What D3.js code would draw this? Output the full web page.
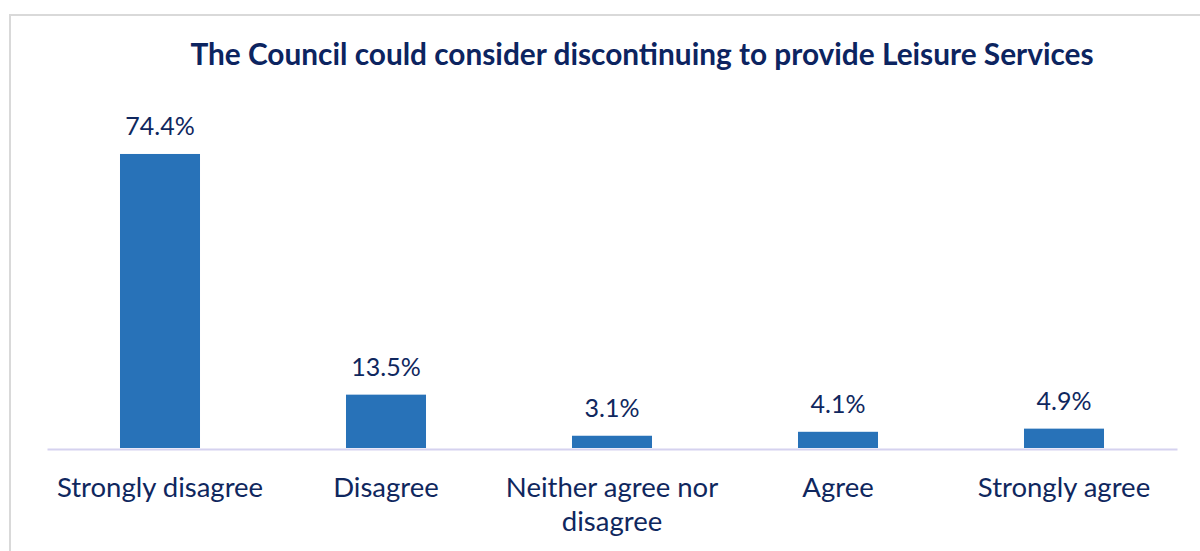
<!DOCTYPE html>
<html>
<head>
<meta charset="utf-8">
<script src="https://cdn.jsdelivr.net/npm/d3@7"></script>
<style>
  html, body { margin: 0; padding: 0; background: #ffffff; }
  svg { display: block; }
</style>
</head>
<body>
<svg id="chart" width="1200" height="551"></svg>
<script>
// Survey responses: share of respondents per answer (%)
const categories = ["Strongly disagree", "Disagree", "Neither agree nor disagree", "Agree", "Strongly agree"];
const values = [74.4, 13.5, 3.1, 4.1, 4.9];
const valueLabels = ["74.4%", "13.5%", "3.1%", "4.1%", "4.9%"];
const title = "The Council could consider discontinuing to provide Leisure Services";

const svg = d3.select("#chart");
const W = 1200, H = 551;
const navy = "#0f275e";
const barColor = "#2872b8";
const fontFamily = "Lato, 'Open Sans', sans-serif";

// outer chart frame
svg.append("rect")
  .attr("x", 10).attr("y", 15)
  .attr("width", W).attr("height", H)
  .attr("fill", "#ffffff")
  .attr("stroke", "#d9d9d9")
  .attr("stroke-width", 2);

const plot = { left: 47, right: 1177, baseline: 448 };

const x = d3.scaleBand()
  .domain(categories)
  .range([plot.left, plot.right])
  .paddingInner(0.646)
  .paddingOuter(0.323);

const y = d3.scaleLinear()
  .domain([0, 80])
  .range([plot.baseline, plot.baseline - 80 * 3.952]);

// title
svg.append("text")
  .attr("x", 642)
  .attr("y", 65)
  .attr("text-anchor", "middle")
  .attr("font-family", fontFamily)
  .attr("font-weight", 700)
  .attr("font-size", 29.8)
  .attr("fill", "#0c2460")
  .text(title);

// bars
svg.append("g")
  .selectAll("rect")
  .data(values)
  .join("rect")
  .attr("x", (d, i) => x(categories[i]))
  .attr("y", d => y(d))
  .attr("width", x.bandwidth())
  .attr("height", d => y(0) - y(d))
  .attr("fill", barColor);

// value labels above bars
svg.append("g")
  .selectAll("text")
  .data(values)
  .join("text")
  .attr("x", (d, i) => x(categories[i]) + x.bandwidth() / 2)
  .attr("y", d => y(d) - 19)
  .attr("text-anchor", "middle")
  .attr("font-family", fontFamily)
  .attr("font-size", 25)
  .attr("fill", navy)
  .text((d, i) => valueLabels[i]);

// category axis
const axis = svg.append("g")
  .attr("transform", `translate(0,${plot.baseline + 1})`)
  .call(d3.axisBottom(x).tickSize(0).tickSizeOuter(0).tickPadding(0));

axis.select(".domain")
  .attr("stroke", "#d5d2ef")
  .attr("stroke-width", 2);

axis.selectAll(".tick text")
  .attr("font-family", fontFamily)
  .attr("font-size", 27.5)
  .attr("fill", navy)
  .attr("dy", null)
  .attr("y", 48)
  .call(wrap, 222);

// break long category names onto several centred lines
function wrap(textSel, width) {
  textSel.each(function () {
    const text = d3.select(this);
    const words = text.text().split(/\s+/);
    const yPos = +text.attr("y");
    const lineHeight = 34;
    text.text(null);
    let line = [];
    let lineNo = 0;
    let tspan = text.append("tspan").attr("x", 0).attr("y", yPos);
    words.forEach(word => {
      line.push(word);
      tspan.text(line.join(" "));
      if (tspan.node().getComputedTextLength() > width && line.length > 1) {
        line.pop();
        tspan.text(line.join(" "));
        line = [word];
        lineNo += 1;
        tspan = text.append("tspan")
          .attr("x", 0)
          .attr("y", yPos + lineNo * lineHeight)
          .text(word);
      }
    });
  });
}
</script>
</body>
</html>
